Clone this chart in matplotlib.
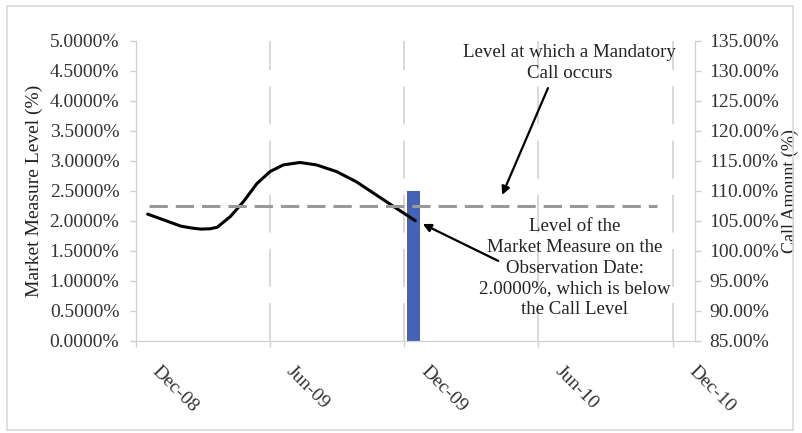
import matplotlib
matplotlib.use("Agg")
import matplotlib.pyplot as plt
import matplotlib.transforms as mtransforms
from matplotlib.patches import Rectangle
from matplotlib.ticker import FuncFormatter

plt.rcParams["font.family"] = ["Liberation Serif", "DejaVu Serif"]

# months after Dec-08 and market measure level (%)
months = [0.52, 1.26, 2.0, 2.45, 2.89, 3.3, 3.63, 4.22, 4.81, 5.41, 6.0,
          6.59, 7.33, 8.07, 8.96, 9.85, 10.74, 11.63, 12.49]
level = [2.11, 2.01, 1.91, 1.88, 1.86, 1.865, 1.89, 2.07, 2.32, 2.62, 2.82,
         2.93, 2.97, 2.93, 2.82, 2.65, 2.43, 2.21, 2.00]

call_level = 2.25
call_span = [0.58, 23.3]

bar_x = [12.41]
bar_amount = [110.0]

tick_months = [0, 6, 12, 18, 24]
tick_labels = ["Dec-08", "Jun-09", "Dec-09", "Jun-10", "Dec-10"]

fig = plt.figure(figsize=(8.02, 4.33), dpi=100)
ax = fig.add_axes([136 / 802, 1 - 340.7 / 433, 559 / 802, 300 / 433])
ax2 = ax.twinx()

grey = "#d0d0d0"
txt = "#333333"

# bar on the right axis (drawn underneath the lines)
ax2.bar(bar_x, bar_amount, width=0.59, color="#4463B8", zorder=2)
ax2.set_ylim(85, 135)
ax2.set_yticks([85 + 5 * i for i in range(11)])
ax2.yaxis.set_major_formatter(FuncFormatter(lambda v, p: f"{v:.2f}%"))

ax.set_zorder(ax2.get_zorder() + 1)
ax.patch.set_visible(False)

for m in tick_months[1:]:
    ax2.axvline(m, color="#d6d6d6", lw=1.3, dashes=(21, 9), zorder=1)

ax.plot(months, level, color="black", lw=2.2, solid_capstyle="round",
        solid_joinstyle="round")
ax.plot(call_span, [call_level, call_level], color="#999999", lw=2.2,
        dashes=(6, 2.6))

ax.set_xlim(0, 25)
ax.set_ylim(0, 5)
ax.set_yticks([0.5 * i for i in range(11)])
ax.yaxis.set_major_formatter(FuncFormatter(lambda v, p: f"{v:.4f}%"))
ax.set_xticks(tick_months)
ax.set_xticklabels([])

# rotated date labels, drawn as text below each tick
lab_tr = ax.get_xaxis_transform() + mtransforms.ScaledTranslation(
    0.25, -0.22, fig.dpi_scale_trans)
for m, t in zip(tick_months, tick_labels):
    ax.text(m, 0, t, transform=lab_tr, rotation=-45, ha="left", va="top",
            rotation_mode="anchor", fontsize=14, color=txt)

for a in (ax, ax2):
    for s in a.spines.values():
        s.set_color(grey)
    a.spines["top"].set_visible(False)
    a.tick_params(colors=grey, labelcolor=txt, labelsize=14, length=4,
                  width=1)
ax.tick_params(axis="y", pad=8)
ax2.tick_params(axis="y", pad=6)

ax.set_ylabel("Market Measure Level (%)", fontsize=14, color="#222222",
              labelpad=5)
ax2.set_ylabel("Call Amount (%)", fontsize=13, color="#222222", labelpad=2)

ax.text(0.776, 0.926, "Level at which a Mandatory\nCall occurs",
        transform=ax.transAxes, ha="center", va="center", fontsize=13.6,
        color="#222222", linespacing=1.25)
ax.text(0.785, 0.242,
        "Level of the\nMarket Measure on the\nObservation Date:\n"
        "2.0000%, which is below\nthe Call Level",
        transform=ax.transAxes, ha="center", va="center", fontsize=13.6,
        color="#222222", linespacing=1.3)

arrow = dict(arrowstyle="-|>", color="black", lw=1.6, mutation_scale=12,
             shrinkA=0, shrinkB=0)
ax.annotate("", xy=(0.655, 0.486), xytext=(0.737, 0.842),
            xycoords="axes fraction", arrowprops=arrow)
ax.annotate("", xy=(0.513, 0.389), xytext=(0.648, 0.266),
            xycoords="axes fraction", arrowprops=arrow)

fig.patches.append(Rectangle((7 / 802, 3 / 433), 786 / 802, 424 / 433,
                             transform=fig.transFigure, fill=False,
                             edgecolor="#d9d9d9", lw=1.2))

fig.savefig("out.png", dpi=100)
